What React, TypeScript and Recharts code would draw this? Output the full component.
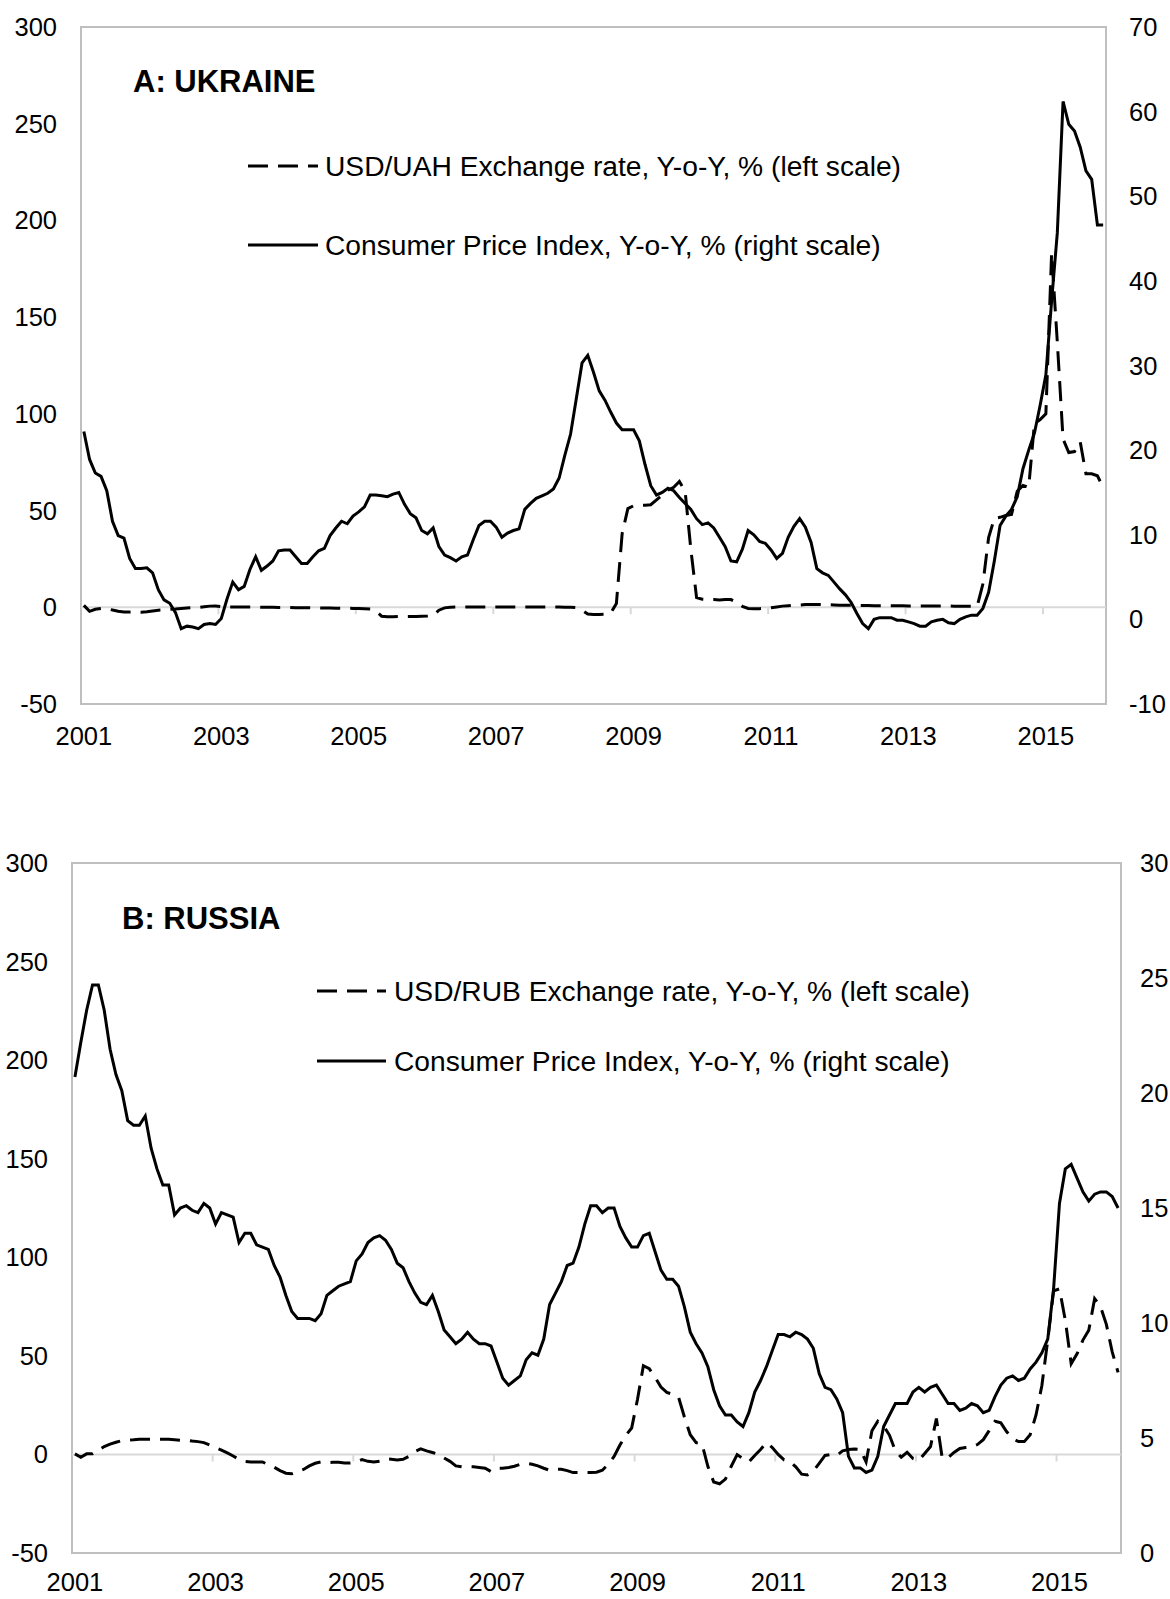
import React from 'react';
import { LineChart, Line, XAxis, YAxis, ReferenceLine, ReferenceArea } from 'recharts';

const FONT = '"Liberation Sans", Arial, Helvetica, sans-serif';

// Category labels: monthly, Jan 2001 .. Nov 2015
const monthLabels: string[] = [];
for (let y = 2001; y <= 2015; y++) {
  for (let m = 1; m <= 12; m++) {
    if (y === 2015 && m === 12) continue;
    monthLabels.push(`${y}-${String(m).padStart(2, '0')}`);
  }
}

const yearLabels = ['2001', '2003', '2005', '2007', '2009', '2011', '2013', '2015'];
const leftTicks = [-50, 0, 50, 100, 150, 200, 250, 300];
const ukraineRightTicks = [-10, 0, 10, 20, 30, 40, 50, 60, 70];
const russiaRightTicks = [0, 5, 10, 15, 20, 25, 30];

// A: Ukraine — USD/UAH exchange rate, y-o-y % (left scale)
const ukraineFx = [
  1.0, -2.1, -1.0, -0.6, -0.8, -1.4, -2.0, -2.4, -2.5, -2.6,
  -2.6, -2.3, -1.9, -1.5, -1.3, -1.1, -0.9, -0.6, -0.4, -0.2,
  -0.1, 0.3, 0.6, 0.7, 0.4, 0.2, 0.2, 0.2, 0.1, 0.1,
  0.1, 0.0, 0.0, 0.0, -0.1, -0.1, -0.1, -0.2, -0.2, -0.2,
  -0.3, -0.3, -0.4, -0.4, -0.5, -0.5, -0.5, -0.6, -0.6, -0.7,
  -0.9, -2.0, -4.6, -4.9, -4.9, -4.8, -4.8, -4.8, -4.7, -4.6,
  -4.5, -4.2, -1.5, -0.3, 0.0, 0.1, 0.1, 0.1, 0.1, 0.1,
  0.1, 0.1, 0.1, 0.1, 0.1, 0.1, 0.1, 0.1, 0.1, 0.1,
  0.1, 0.1, 0.1, 0.1, 0.0, 0.0, -0.2, -1.5, -3.5, -3.7,
  -3.7, -3.6, -3.0, 2.0, 38.0, 51.0, 52.5, 52.7, 52.8, 53.0,
  55.5, 58.0, 60.5, 62.0, 65.0, 60.0, 30.0, 5.0, 4.2, 4.0,
  4.0, 3.8, 4.0, 4.0, 2.5, 0.5, -0.6, -0.7, -0.7, -0.6,
  -0.2, 0.2, 0.6, 0.8, 1.0, 1.2, 1.4, 1.5, 1.5, 1.4,
  1.3, 1.2, 1.1, 1.0, 1.0, 0.9, 0.9, 0.9, 0.8, 0.8,
  0.8, 0.8, 0.8, 0.8, 0.7, 0.7, 0.7, 0.7, 0.7, 0.7,
  0.7, 0.7, 0.6, 0.6, 0.6, 0.6, 0.5, 12.0, 36.0, 46.0,
  46.5, 47.5, 48.0, 60.0, 63.0, 62.0, 95.0, 97.0, 100.0, 183.0,
  137.0, 87.0, 80.0, 80.5, 85.5, 69.0, 69.0, 68.0, 62.0,
];

// A: Ukraine — CPI, y-o-y % (right scale)
const ukraineCpi = [
  22.2, 18.9, 17.3, 16.9, 15.2, 11.6, 9.9, 9.6, 7.2, 6.0,
  6.0, 6.1, 5.5, 3.5, 2.3, 1.9, 0.8, -1.1, -0.8, -0.9,
  -1.1, -0.6, -0.5, -0.6, 0.1, 2.4, 4.4, 3.5, 3.9, 5.9,
  7.4, 5.8, 6.3, 6.9, 8.1, 8.2, 8.2, 7.4, 6.6, 6.6,
  7.4, 8.1, 8.4, 9.9, 10.8, 11.6, 11.3, 12.2, 12.7, 13.3,
  14.7, 14.7, 14.6, 14.5, 14.8, 15.0, 13.6, 12.5, 12.0, 10.5,
  10.1, 10.8, 8.6, 7.6, 7.3, 6.9, 7.4, 7.6, 9.4, 11.1,
  11.6, 11.6, 10.9, 9.7, 10.2, 10.5, 10.7, 13.0, 13.7, 14.3,
  14.6, 14.9, 15.4, 16.7, 19.4, 21.9, 26.1, 30.3, 31.2, 29.2,
  27.0, 25.9, 24.5, 23.2, 22.4, 22.4, 22.4, 21.1, 18.3, 15.8,
  14.7, 15.0, 15.5, 15.2, 14.4, 13.7, 13.0, 11.9, 11.2, 11.4,
  10.8, 9.7, 8.6, 6.9, 6.8, 8.3, 10.5, 10.0, 9.2, 9.0,
  8.2, 7.2, 7.8, 9.7, 11.0, 11.9, 10.9, 9.1, 6.0, 5.5,
  5.2, 4.4, 3.6, 2.9, 2.0, 0.7, -0.5, -1.1, 0.0, 0.2,
  0.2, 0.2, -0.1, -0.1, -0.3, -0.5, -0.8, -0.8, -0.3, -0.1,
  0.0, -0.4, -0.5, 0.0, 0.3, 0.5, 0.5, 1.3, 3.2, 6.9,
  11.1, 12.2, 13.0, 14.5, 17.8, 20.0, 22.0, 25.3, 28.9, 37.6,
  45.7, 61.2, 58.5, 57.7, 55.8, 53.0, 52.0, 46.6, 46.6,
];

// B: Russia — USD/RUB exchange rate, y-o-y % (left scale)
const russiaFx = [
  0.3, -1.4, 0.3, 0.3, 2.0, 4.0, 5.2, 6.2, 7.0, 7.2,
  7.4, 7.7, 7.7, 7.7, 7.7, 7.7, 7.7, 7.5, 7.2, 7.2,
  6.8, 6.5, 6.0, 4.8, 3.5, 2.2, 0.8, -0.8, -2.5, -3.5,
  -3.8, -3.8, -3.8, -5.2, -6.5, -8.2, -9.5, -9.8, -8.6, -7.6,
  -5.8, -4.5, -3.8, -4.2, -4.0, -4.0, -4.3, -4.3, -3.8, -2.6,
  -3.5, -3.8, -3.4, -2.2, -2.4, -2.8, -2.5, -1.0, 1.5, 2.8,
  1.8, 1.0, 0.0, -1.8, -3.5, -5.8, -6.3, -6.3, -6.3, -6.6,
  -7.0, -8.7, -7.0, -7.0, -6.6, -6.0, -5.0, -4.5, -5.0, -5.8,
  -7.0, -8.0, -7.6, -7.5, -8.2, -9.2, -9.2, -9.2, -9.2, -9.0,
  -8.0, -5.0, -1.0, 4.8, 9.7, 13.4, 28.0, 45.0, 43.5, 39.1,
  34.2, 31.5, 30.5, 29.0, 19.0, 10.0, 6.0, 5.3, -6.0, -14.0,
  -14.9, -12.5, -6.0, -0.1, -2.1, -3.8, -0.5, 2.5, 6.0, 3.5,
  0.0, -2.8, -3.5, -6.3, -10.0, -10.4, -8.5, -4.5, -0.5, 0.0,
  -0.5, 1.8, 2.5, 2.8, 2.5, -3.8, 12.0, 16.8, 14.5, 9.7,
  1.8, -1.4, 1.1, -2.1, -3.1, 0.5, 4.0, 18.2, -2.0, -1.6,
  1.0, 3.0, 3.5, 3.8, 5.0, 7.5, 12.1, 16.8, 16.0, 11.5,
  8.0, 6.5, 6.5, 10.0, 20.0, 35.0, 58.0, 83.0, 84.0, 68.0,
  46.0, 51.0, 58.0, 63.0, 79.0, 75.0, 66.0, 52.0, 41.6,
];

// B: Russia — CPI, y-o-y % (right scale)
const russiaCpi = [
  20.7, 22.2, 23.6, 24.7, 24.7, 23.6, 21.9, 20.8, 20.1, 18.8,
  18.6, 18.6, 19.0, 17.6, 16.7, 16.0, 16.0, 14.7, 15.0, 15.1,
  14.9, 14.8, 15.2, 15.0, 14.3, 14.8, 14.7, 14.6, 13.5, 13.9,
  13.9, 13.4, 13.3, 13.2, 12.5, 12.0, 11.2, 10.5, 10.2, 10.2,
  10.2, 10.1, 10.4, 11.2, 11.4, 11.6, 11.7, 11.8, 12.7, 13.0,
  13.5, 13.7, 13.8, 13.6, 13.2, 12.6, 12.4, 11.8, 11.3, 10.9,
  10.8, 11.2, 10.5, 9.7, 9.4, 9.1, 9.3, 9.6, 9.3, 9.1,
  9.1, 9.0, 8.3, 7.6, 7.3, 7.5, 7.7, 8.4, 8.7, 8.6,
  9.3, 10.8, 11.3, 11.8, 12.5, 12.6, 13.3, 14.3, 15.1, 15.1,
  14.8, 15.0, 15.0, 14.2, 13.7, 13.3, 13.3, 13.8, 13.9, 13.1,
  12.3, 11.9, 11.9, 11.6, 10.7, 9.6, 9.1, 8.7, 8.1, 7.1,
  6.4, 6.0, 6.0, 5.7, 5.5, 6.1, 7.0, 7.5, 8.1, 8.8,
  9.5, 9.5, 9.4, 9.6, 9.5, 9.3, 8.9, 7.8, 7.2, 7.1,
  6.7, 6.1, 4.2, 3.7, 3.7, 3.5, 3.6, 4.2, 5.5, 6.0,
  6.5, 6.5, 6.5, 7.0, 7.2, 7.0, 7.2, 7.3, 6.9, 6.5,
  6.5, 6.2, 6.3, 6.5, 6.4, 6.1, 6.2, 6.8, 7.3, 7.6,
  7.7, 7.5, 7.6, 8.0, 8.3, 8.7, 9.3, 11.5, 15.2, 16.7,
  16.9, 16.3, 15.7, 15.3, 15.6, 15.7, 15.7, 15.5, 15.0,
];

const yearTickIndex = yearLabels.map((lbl) => monthLabels.indexOf(`${lbl}-01`));
const boundaryTicks = yearTickIndex.slice(1).map((i) => i - 0.5);

const buildData = (fx: number[], cpi: number[]) =>
  monthLabels.map((m, i) => ({ i, month: m, fx: fx[i], cpi: cpi[i] }));

const ukraineData = buildData(ukraineFx, ukraineCpi);
const russiaData = buildData(russiaFx, russiaCpi);

const tickStyle = { fill: '#000', fontSize: 25.5, fontFamily: FONT };

type PanelProps = {
  top: number;
  height: number;
  marginTop: number;
  xHeight: number;
  xTickMargin: number;
  leftWidth: number;
  rightWidth: number;
  rightTickMargin: number;
  rightDomain: [number, number];
  rightTicks: number[];
  data: { i: number; month: string; fx: number; cpi: number }[];
};

function Panel(p: PanelProps) {
  const xMax = monthLabels.length - 0.5;
  return (
    <div style={{ position: 'absolute', left: 0, top: p.top, width: 1170, height: p.height }}>
      <LineChart
        width={1170}
        height={p.height}
        data={p.data}
        margin={{ top: p.marginTop, right: 0, bottom: 0, left: 0 }}
      >
        <XAxis
          type="number"
          dataKey="i"
          domain={[-0.5, xMax]}
          allowDataOverflow
          ticks={yearTickIndex}
          interval={0}
          tickFormatter={(v: number) => yearLabels[yearTickIndex.indexOf(v)] ?? ''}
          axisLine={false}
          tickLine={false}
          tickSize={0}
          tickMargin={p.xTickMargin}
          height={p.xHeight}
          tick={tickStyle}
        />
        <YAxis
          yAxisId="left"
          domain={[-50, 300]}
          ticks={leftTicks}
          allowDataOverflow
          interval={0}
          width={p.leftWidth}
          axisLine={false}
          tickLine={false}
          tickSize={0}
          tickMargin={24}
          tick={tickStyle}
        />
        <YAxis
          yAxisId="right"
          orientation="right"
          domain={p.rightDomain}
          ticks={p.rightTicks}
          allowDataOverflow
          interval={0}
          width={p.rightWidth}
          axisLine={false}
          tickLine={false}
          tickSize={0}
          tickMargin={p.rightTickMargin}
          tick={tickStyle}
        />
        <ReferenceArea
          yAxisId="left"
          x1={-0.5}
          x2={xMax}
          y1={-50}
          y2={300}
          fill="none"
          fillOpacity={0}
          stroke="#bfbfbf"
          strokeWidth={2}
        />
        <ReferenceLine yAxisId="left" y={0} stroke="#d9d9d9" strokeWidth={2} />
        {boundaryTicks.map((b) => (
          <ReferenceLine
            key={b}
            yAxisId="left"
            segment={[
              { x: b, y: 0 },
              { x: b, y: -3.6 },
            ]}
            stroke="#d9d9d9"
            strokeWidth={2}
          />
        ))}
        <Line
          yAxisId="left"
          type="linear"
          dataKey="fx"
          stroke="#000"
          strokeWidth={3}
          strokeDasharray="20 10"
          dot={false}
          activeDot={false}
          isAnimationActive={false}
        />
        <Line
          yAxisId="right"
          type="linear"
          dataKey="cpi"
          stroke="#000"
          strokeWidth={3}
          dot={false}
          activeDot={false}
          isAnimationActive={false}
        />
      </LineChart>
    </div>
  );
}

function LegendBlock(props: {
  title: string;
  titleX: number;
  titleY: number;
  sampleX1: number;
  sampleX2: number;
  textX: number;
  row1Y: number;
  row2Y: number;
  label1: string;
  label2: string;
}) {
  const { title, titleX, titleY, sampleX1, sampleX2, textX, row1Y, row2Y, label1, label2 } = props;
  return (
    <g fontFamily={FONT} fill="#000">
      <text x={titleX} y={titleY} fontSize={31} fontWeight="bold">
        {title}
      </text>
      <line x1={sampleX1} x2={sampleX2} y1={row1Y - 10} y2={row1Y - 10} stroke="#000" strokeWidth={3} strokeDasharray="20 10" />
      <text x={textX} y={row1Y} fontSize={28.2}>
        {label1}
      </text>
      <line x1={sampleX1} x2={sampleX2} y1={row2Y - 10} y2={row2Y - 10} stroke="#000" strokeWidth={3} />
      <text x={textX} y={row2Y} fontSize={28.2}>
        {label2}
      </text>
    </g>
  );
}

export default function App() {
  return (
    <div style={{ position: 'absolute', left: 0, top: 0, width: 1170, height: 1599, background: '#fff', overflow: 'hidden' }}>
      <Panel
        top={0}
        height={760}
        marginTop={27}
        xHeight={56}
        xTickMargin={23}
        leftWidth={81}
        rightWidth={64}
        rightTickMargin={23}
        rightDomain={[-10, 70]}
        rightTicks={ukraineRightTicks}
        data={ukraineData}
      />
      <Panel
        top={800}
        height={799}
        marginTop={63}
        xHeight={46}
        xTickMargin={20}
        leftWidth={72}
        rightWidth={49}
        rightTickMargin={19}
        rightDomain={[0, 30]}
        rightTicks={russiaRightTicks}
        data={russiaData}
      />
      <svg
        width={1170}
        height={1599}
        style={{ position: 'absolute', left: 0, top: 0, pointerEvents: 'none' }}
      >
        <LegendBlock
          title="A: UKRAINE"
          titleX={133}
          titleY={92}
          sampleX1={248}
          sampleX2={318}
          textX={325}
          row1Y={176}
          row2Y={255}
          label1="USD/UAH Exchange rate, Y-o-Y, % (left scale)"
          label2="Consumer Price Index, Y-o-Y, % (right scale)"
        />
        <LegendBlock
          title="B: RUSSIA"
          titleX={122}
          titleY={929}
          sampleX1={317}
          sampleX2={386}
          textX={394}
          row1Y={1001}
          row2Y={1071}
          label1="USD/RUB Exchange rate, Y-o-Y, % (left scale)"
          label2="Consumer Price Index, Y-o-Y, % (right scale)"
        />
      </svg>
    </div>
  );
}
